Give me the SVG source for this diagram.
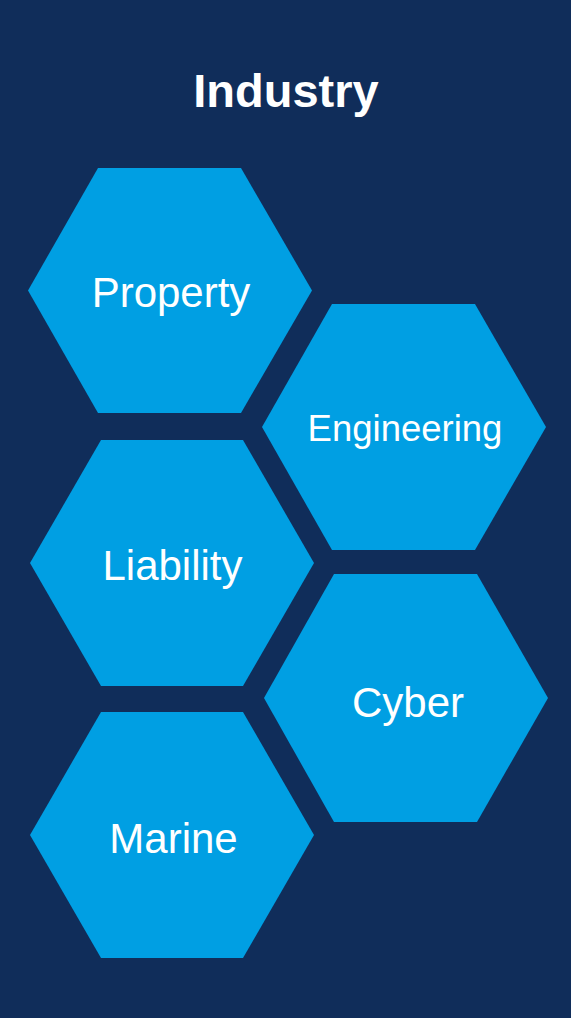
<svg xmlns="http://www.w3.org/2000/svg" width="571" height="1018" viewBox="0 0 571 1018">
<style>
.hex{fill:#009FE3;}
.lbl{font-family:"Liberation Sans",Arial,sans-serif;fill:#FFFFFF;text-anchor:middle;font-size:42px;}
.title{font-family:"Liberation Sans",Arial,sans-serif;fill:#FFFFFF;text-anchor:middle;font-size:47px;font-weight:bold;}
</style>
<rect x="0" y="0" width="571" height="1018" fill="#102D5A"/>
<text class="title" x="286" y="107">Industry</text>
<g id="node-property">
<polygon class="hex" points="98,168 241,168 312,290.5 241,413 98,413 28,290.5"/>
<text class="lbl" x="171" y="306.5">Property</text>
</g>
<g id="node-engineering">
<polygon class="hex" points="332,304 475,304 546,427 475,550 332,550 262,427"/>
<text class="lbl" x="405" y="441" style="font-size:36.5px">Engineering</text>
</g>
<g id="node-liability">
<polygon class="hex" points="101,440 243,440 314,563 243,686 101,686 30,563"/>
<text class="lbl" x="172.5" y="580">Liability</text>
</g>
<g id="node-cyber">
<polygon class="hex" points="334,574 477,574 548,698 477,822 334,822 264,698"/>
<text class="lbl" x="408" y="716.5">Cyber</text>
</g>
<g id="node-marine">
<polygon class="hex" points="101,712 243,712 314,835 243,958 101,958 30,835"/>
<text class="lbl" x="173.5" y="853">Marine</text>
</g>
<g id="connectors"/>
</svg>
